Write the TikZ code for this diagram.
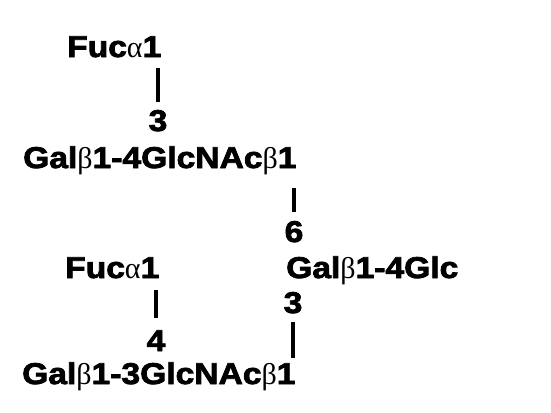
\documentclass[tikz,border=0pt]{standalone}
\usepackage{fontspec}
\usetikzlibrary{calc}
\newfontfamily\hvfont[FakeStretch=1.12,FakeBold=2.5]{Liberation Sans}
\newfontfamily\gkfont{Liberation Serif}
\newcommand{\galpha}{{\gkfont\mdseries α}}
\newcommand{\gbeta}{{\gkfont\mdseries β}}
\begin{document}
\begin{tikzpicture}[x=1pt,y=-1pt,
  lbl/.style={inner sep=0pt,anchor=base west,font=\hvfont\bfseries\fontsize{30}{32}\selectfont},
  num/.style={inner sep=0pt,anchor=base,font=\hvfont\bfseries\fontsize{30}{32}\selectfont},
  link/.style={line width=4pt}]
\useasboundingbox (0,0) rectangle (551,412);
\node[lbl] (fucA) at (67,57) {Fuc\galpha1};
\node[num] (n3a) at (158,131) {3};
\node[lbl] (galA) at (23,168) {Gal\gbeta1-4GlcNAc\gbeta1};
\node[num] (n6) at (294,242) {6};
\node[lbl] (galB) at (286,278) {Gal\gbeta1-4Glc};
\node[lbl] (fucB) at (65,278) {Fuc\galpha1};
\node[num] (n3b) at (293,313) {3};
\node[num] (n4) at (156,351) {4};
\node[lbl] (galC) at (22,384) {Gal\gbeta1-3GlcNAc\gbeta1};
\draw[link] ($(fucA.base -| n3a.north)+(0,11)$) -- ($(n3a.north)+(0,-8)$);
\draw[link] ($(galA.base -| n6.north)+(0,20)$) -- ($(n6.north)+(0,-9)$);
\draw[link] ($(fucB.base -| n4.north)+(0,12)$) -- ($(n4.north)+(0,-12)$);
\draw[link] ($(n3b.base)+(0,9)$) -- ($(galC.north -| n3b.base)+(0,-4)$);
\end{tikzpicture}
\end{document}
